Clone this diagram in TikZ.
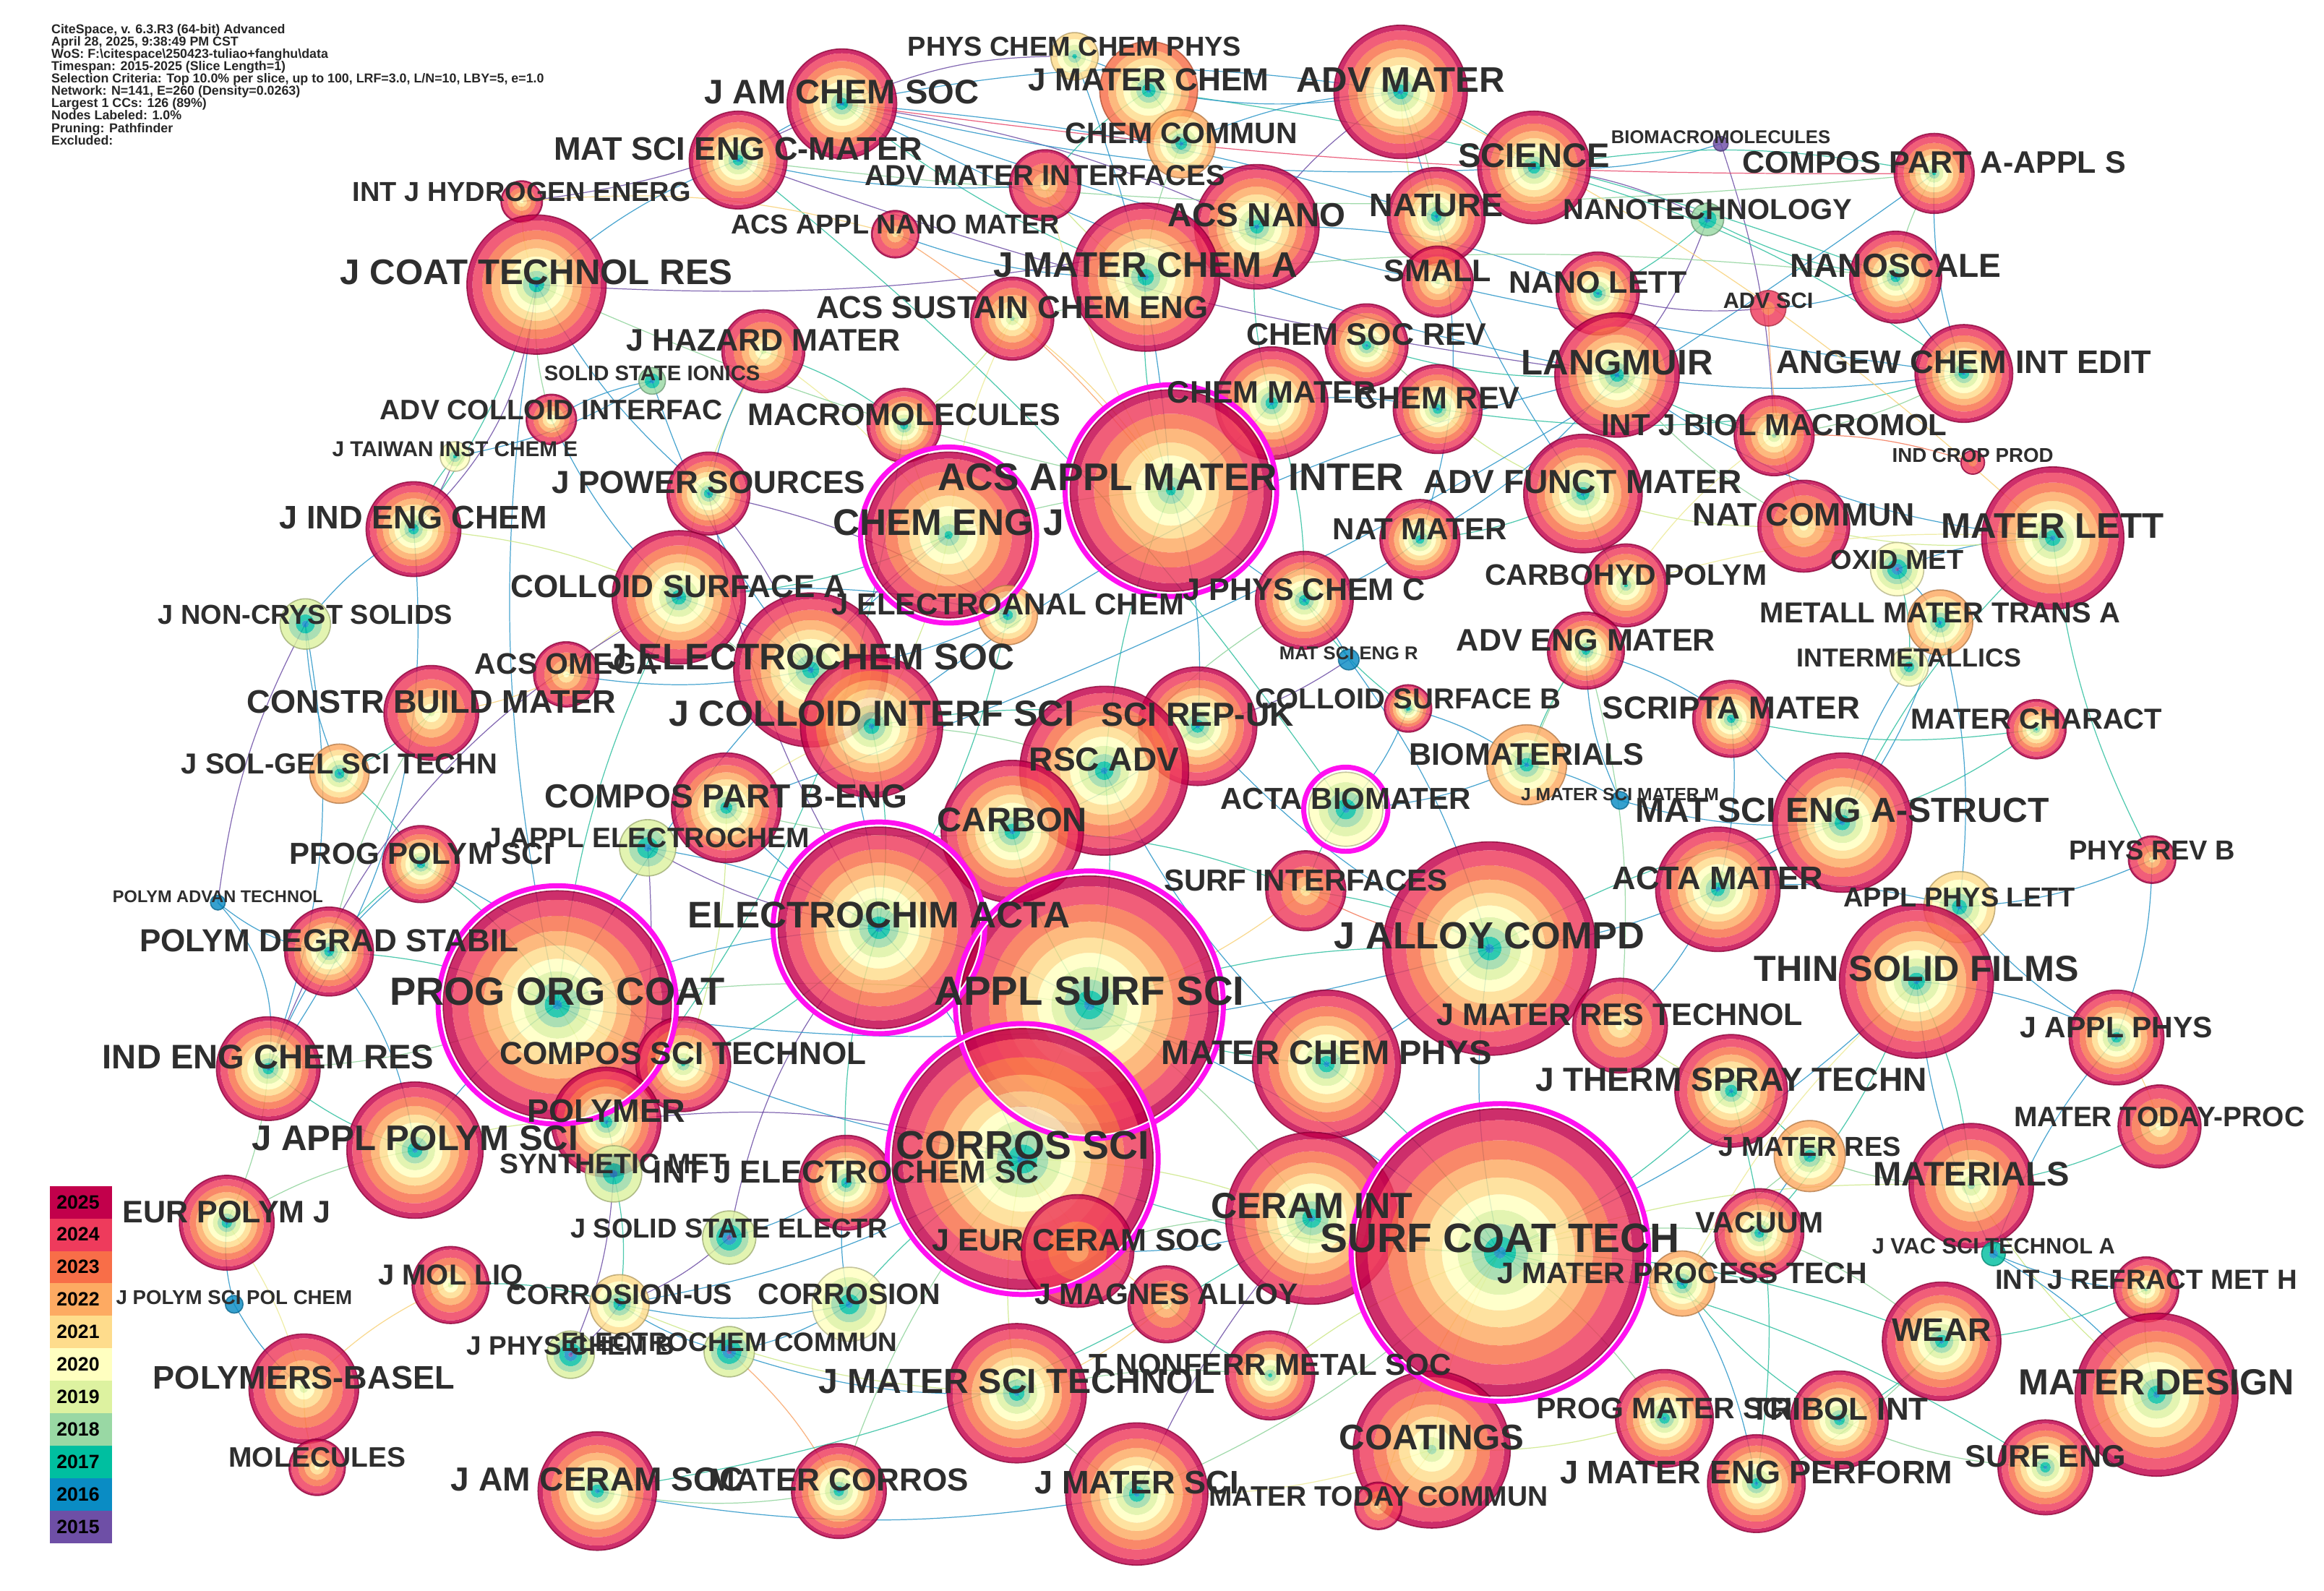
\documentclass[tikz,border=0pt]{standalone}
\usepackage{fontspec}
\setmainfont{Liberation Sans}
\pgfdeclarelayer{bg}\pgfdeclarelayer{fg}
\pgfsetlayers{bg,main,fg}
\definecolor{c2015}{HTML}{6E4FA6}
\definecolor{c2016}{HTML}{0A8CC4}
\definecolor{c2017}{HTML}{00BFA0}
\definecolor{c2018}{HTML}{99D8A4}
\definecolor{c2019}{HTML}{DDF2A0}
\definecolor{c2020}{HTML}{FFFFC0}
\definecolor{c2021}{HTML}{FEDC8C}
\definecolor{c2022}{HTML}{FDAA62}
\definecolor{c2023}{HTML}{F86E48}
\definecolor{c2024}{HTML}{EE3B5C}
\definecolor{c2025}{HTML}{C2004B}
\definecolor{ec15}{HTML}{6E4FA6}
\definecolor{ec16}{HTML}{2A96C8}
\definecolor{ec17}{HTML}{30C0A0}
\definecolor{ec18}{HTML}{90D49C}
\definecolor{ec19}{HTML}{CDE888}
\definecolor{ec20}{HTML}{EDEB98}
\definecolor{ec21}{HTML}{F8D27A}
\definecolor{ec22}{HTML}{F9A66A}
\definecolor{ec23}{HTML}{F47A5A}
\definecolor{ec24}{HTML}{E8486A}
\definecolor{magc}{HTML}{FF10F0}
\tikzset{
  lab/.style={text=black!82, inner sep=0pt},
  ed/.style={line width=.6pt, opacity=.85},
  mag/.style={draw=magc, line width=3.4pt},
}
\newcommand\jnode[8]{%
  \coordinate (#1) at (#2,#3);%
  \pgfmathtruncatemacro\jF{#5}%
  \pgfmathtruncatemacro\jL{#6}%
  \ifnum\jL=2025
    \def\jT{2024}\pgfmathsetmacro\jR{0.92*#4}%
    \fill[fill=c2025,fill opacity=.82,even odd rule] (#1) circle[radius=#4pt] circle[radius=\jR pt];%
  \else
    \edef\jT{\jL}\pgfmathsetmacro\jR{#4}%
  \fi
  \pgfmathtruncatemacro\jM{\jT-\jF+1}%
  \foreach \kk in {1,...,\jM}{%
    \pgfmathtruncatemacro\jyr{\jF+\kk-1}%
    \pgfmathsetmacro\jro{\jR*pow(\kk/\jM,1.4)}%
    \pgfmathsetmacro\jri{\jR*pow(max(\kk-1,0.01)/\jM,1.4)}%
    \fill[fill=c\jyr,fill opacity=.82,even odd rule] (#1) circle[radius=\jro pt] circle[radius=\jri pt];%
  }%
  \draw[draw=c\jL!70!black,line width=.8pt,opacity=.75] (#1) circle[radius=#4pt];%
  \begin{pgfonlayer}{fg}%
  \node[lab,font=\fontsize{#7}{#7}\selectfont\bfseries,anchor=base] (#1-l) at (#1) {#8};%
  \end{pgfonlayer}%
}
\newcommand\magring[2]{%
  \draw[white,line width=1.2pt] (#1) circle[radius=#2pt+1.3pt];
  \draw[mag] (#1) circle[radius=#2pt+3.4pt];}
\begin{document}
\begin{tikzpicture}[x=1pt,y=-1pt]
\useasboundingbox (0,0) rectangle (1568,1073);
\begin{pgfonlayer}{bg}
\fill[white] (0,0) rectangle (1568,1073);
\end{pgfonlayer}

% ---------- nodes ----------
\jnode{physchem}{725}{38}{16}{2017}{2021}{18.5}{PHYS CHEM CHEM PHYS}
\jnode{jmaterchem}{775}{61}{33}{2016}{2023}{21.5}{J MATER CHEM}
\jnode{advmater}{945}{62}{45}{2016}{2025}{24}{ADV MATER}
\jnode{jacs}{568}{70}{37}{2016}{2025}{23}{J AM CHEM SOC}
\jnode{chemcommun}{797}{97}{23}{2016}{2022}{20}{CHEM COMMUN}
\jnode{msec}{498}{108}{33}{2016}{2025}{22}{MAT SCI ENG C-MATER}
\jnode{advmatint}{705}{125}{24}{2021}{2025}{19.5}{ADV MATER INTERFACES}
\jnode{science}{1035}{113}{38}{2016}{2025}{23}{SCIENCE}
\jnode{biomacro}{1161}{97}{5}{2015}{2015}{12.5}{BIOMACROMOLECULES}
\jnode{composA}{1305}{117}{27}{2017}{2025}{21}{COMPOS PART A-APPL S}
\jnode{hydrogen}{352}{136}{14}{2020}{2025}{18.5}{INT J HYDROGEN ENERG}
\jnode{nanomater}{604}{158}{16}{2021}{2025}{18.4}{ACS APPL NANO MATER}
\jnode{acsnano}{848}{153}{42}{2016}{2025}{22.5}{ACS NANO}
\jnode{nature}{969}{146}{33}{2016}{2025}{22}{NATURE}
\jnode{nanotech}{1152}{148}{11}{2016}{2018}{19.5}{NANOTECHNOLOGY}
\jnode{jmca}{773}{187}{50}{2016}{2025}{24}{J MATER CHEM A}
\jnode{small}{970}{190}{24}{2019}{2025}{21}{SMALL}
\jnode{nanolett}{1078}{198}{28}{2016}{2025}{21}{NANO LETT}
\jnode{nanoscale}{1279}{187}{31}{2016}{2025}{22.5}{NANOSCALE}
\jnode{jctr}{362}{192}{47}{2016}{2025}{24}{J COAT TECHNOL RES}
\jnode{advsci}{1193}{208}{12}{2023}{2024}{15}{ADV SCI}
\jnode{sustain}{683}{215}{28}{2018}{2025}{21.4}{ACS SUSTAIN CHEM ENG}
\jnode{hazard}{515}{237}{28}{2019}{2025}{21}{J HAZARD MATER}
\jnode{ssi}{440}{257}{9}{2016}{2018}{14.3}{SOLID STATE IONICS}
\jnode{chemsocrev}{922}{233}{28}{2016}{2025}{21}{CHEM SOC REV}
\jnode{langmuir}{1091}{253}{42}{2016}{2025}{24}{LANGMUIR}
\jnode{angew}{1325}{252}{33}{2016}{2025}{22}{ANGEW CHEM INT EDIT}
\jnode{chemmater}{858}{272}{38}{2016}{2025}{21}{CHEM MATER}
\jnode{chemrev}{970}{276}{30}{2016}{2025}{21}{CHEM REV}
\jnode{macromol}{610}{287}{25}{2016}{2025}{21}{MACROMOLECULES}
\jnode{colloidint}{372}{283}{17}{2019}{2025}{19}{ADV COLLOID INTERFAC}
\jnode{taiwan}{307}{308}{10}{2017}{2020}{14.5}{J TAIWAN INST CHEM E}
\jnode{ijbm}{1197}{294}{27}{2018}{2025}{20.5}{INT J BIOL MACROMOL}
\jnode{indcrop}{1331}{312}{8}{2023}{2025}{13.5}{IND CROP PROD}
\jnode{powersrc}{478}{333}{28}{2016}{2025}{21.5}{J POWER SOURCES}
\jnode{acsami}{790}{331}{68}{2017}{2025}{26}{ACS APPL MATER INTER}
\jnode{cej}{640}{361}{56}{2017}{2025}{25}{CHEM ENG J}
\jnode{afm}{1068}{333}{40}{2016}{2025}{22.5}{ADV FUNCT MATER}
\jnode{materlett}{1385}{363}{48}{2016}{2025}{24}{MATER LETT}
\jnode{jiec}{279}{357}{32}{2016}{2025}{22}{J IND ENG CHEM}
\jnode{natmater}{958}{364}{27}{2016}{2025}{20.5}{NAT MATER}
\jnode{natcommun}{1217}{355}{31}{2020}{2025}{21.8}{NAT COMMUN}
\jnode{oxidmet}{1280}{384}{18}{2015}{2020}{18.5}{OXID MET}
\jnode{carbohyd}{1097}{395}{28}{2017}{2025}{20}{CARBOHYD POLYM}
\jnode{jpcc}{880}{405}{33}{2016}{2025}{21}{J PHYS CHEM C}
\jnode{electroanal}{680}{415}{20}{2016}{2022}{20.5}{J ELECTROANAL CHEM}
\jnode{colloidA}{458}{403}{45}{2016}{2025}{21.5}{COLLOID SURFACE A}
\jnode{metall}{1309}{420}{22}{2016}{2022}{19.5}{METALL MATER TRANS A}
\jnode{noncryst}{206}{421}{17}{2016}{2019}{18.5}{J NON-CRYST SOLIDS}
\jnode{jes}{547}{452}{52}{2016}{2025}{25}{J ELECTROCHEM SOC}
\jnode{advengmater}{1070}{439}{26}{2016}{2025}{21}{ADV ENG MATER}
\jnode{intermet}{1288}{450}{13}{2016}{2020}{17.5}{INTERMETALLICS}
\jnode{mser}{910}{445}{7}{2016}{2016}{12.5}{MAT SCI ENG R}
\jnode{acsomega}{382}{455}{22}{2020}{2025}{20}{ACS OMEGA}
\jnode{colloidB}{950}{478}{16}{2016}{2025}{19.5}{COLLOID SURFACE B}
\jnode{constr}{291}{481}{32}{2019}{2025}{22}{CONSTR BUILD MATER}
\jnode{jcis}{588}{490}{48}{2016}{2025}{24.5}{J COLLOID INTERF SCI}
\jnode{scripta}{1168}{485}{26}{2016}{2025}{21.5}{SCRIPTA MATER}
\jnode{matchar}{1374}{492}{20}{2017}{2025}{19.5}{MATER CHARACT}
\jnode{scirep}{808}{490}{40}{2016}{2025}{22.5}{SCI REP-UK}
\jnode{rscadv}{745}{520}{57}{2016}{2025}{22.5}{RSC ADV}
\jnode{solgel}{229}{522}{20}{2016}{2022}{19.5}{J SOL-GEL SCI TECHN}
\jnode{biomat}{1030}{516}{27}{2016}{2022}{21}{BIOMATERIALS}
\jnode{jmsmm}{1093}{540}{6}{2016}{2016}{12}{J MATER SCI MATER M}
\jnode{composB}{490}{545}{37}{2016}{2025}{22.5}{COMPOS PART B-ENG}
\jnode{actabio}{908}{546}{25}{2016}{2020}{20.5}{ACTA BIOMATER}
\jnode{msea}{1243}{555}{47}{2016}{2025}{23.5}{MAT SCI ENG A-STRUCT}
\jnode{carbon}{683}{561}{48}{2016}{2025}{23}{CARBON}
\jnode{applelectro}{437}{572}{19}{2016}{2019}{19}{J APPL ELECTROCHEM}
\jnode{progpolym}{284}{583}{26}{2016}{2025}{20.5}{PROG POLYM SCI}
\jnode{physrevb}{1452}{580}{16}{2021}{2025}{18.5}{PHYS REV B}
\jnode{polymadv}{147}{609}{5}{2016}{2016}{11.5}{POLYM ADVAN TECHNOL}
\jnode{surfint}{881}{601}{27}{2021}{2025}{20.5}{SURF INTERFACES}
\jnode{actamater}{1159}{600}{42}{2016}{2025}{22}{ACTA MATER}
\jnode{apl}{1322}{612}{24}{2016}{2021}{18.5}{APPL PHYS LETT}
\jnode{electrochim}{593}{626}{68}{2016}{2025}{25}{ELECTROCHIM ACTA}
\jnode{polymdegrad}{222}{642}{30}{2016}{2025}{21.5}{POLYM DEGRAD STABIL}
\jnode{jalcom}{1005}{640}{72}{2016}{2025}{25.5}{J ALLOY COMPD}
\jnode{tsf}{1293}{662}{52}{2016}{2025}{24.5}{THIN SOLID FILMS}
\jnode{appsurf}{735}{678}{87}{2016}{2025}{27.5}{APPL SURF SCI}
\jnode{poc}{376}{678}{77}{2016}{2025}{26.5}{PROG ORG COAT}
\jnode{jap}{1428}{700}{32}{2016}{2025}{20}{J APPL PHYS}
\jnode{jmrt}{1093}{692}{32}{2020}{2025}{21}{J MATER RES TECHNOL}
\jnode{iecr}{181}{721}{35}{2016}{2025}{23}{IND ENG CHEM RES}
\jnode{compsci}{461}{718}{32}{2017}{2025}{21.5}{COMPOS SCI TECHNOL}
\jnode{matchemphys}{895}{718}{50}{2016}{2025}{23}{MATER CHEM PHYS}
\jnode{jtst}{1168}{736}{38}{2016}{2025}{22.5}{J THERM SPRAY TECHN}
\jnode{polymer}{409}{757}{37}{2016}{2025}{22}{POLYMER}
\jnode{jappolym}{280}{776}{46}{2016}{2025}{24}{J APPL POLYM SCI}
\jnode{synthmet}{414}{792}{19}{2016}{2019}{19}{SYNTHETIC MET}
\jnode{ijes}{571}{798}{32}{2016}{2025}{21.5}{INT J ELECTROCHEM SC}
\jnode{corrsci}{690}{782}{88}{2016}{2025}{27}{CORROS SCI}
\jnode{mattoday}{1457}{760}{28}{2020}{2025}{19}{MATER TODAY-PROC}
\jnode{jmatres}{1221}{780}{24}{2016}{2022}{18.5}{J MATER RES}
\jnode{materials}{1330}{800}{42}{2018}{2025}{23}{MATERIALS}
\jnode{ceramint}{885}{822}{58}{2016}{2025}{24.5}{CERAM INT}
\jnode{sct}{1012}{845}{97}{2016}{2025}{27.7}{SURF COAT TECH}
\jnode{eurpolym}{153}{825}{32}{2016}{2025}{21}{EUR POLYM J}
\jnode{jsse}{492}{835}{18}{2015}{2019}{18.5}{J SOLID STATE ELECTR}
\jnode{jecs}{727}{844}{38}{2022}{2025}{21}{J EUR CERAM SOC}
\jnode{vacuum}{1187}{832}{30}{2016}{2025}{20}{VACUUM}
\jnode{jvst}{1345}{846}{8}{2016}{2017}{15}{J VAC SCI TECHNOL A}
\jnode{jmpt}{1135}{866}{22}{2016}{2022}{20}{J MATER PROCESS TECH}
\jnode{refract}{1448}{870}{22}{2018}{2025}{18.7}{INT J REFRACT MET H}
\jnode{jmolliq}{304}{867}{26}{2019}{2025}{19.5}{J MOL LIQ}
\jnode{polymscipol}{158}{880}{6}{2016}{2016}{13.5}{J POLYM SCI POL CHEM}
\jnode{corrosionus}{418}{880}{20}{2016}{2021}{19.3}{CORROSION-US}
\jnode{corrosion}{573}{880}{25}{2016}{2020}{20}{CORROSION}
\jnode{jmagnes}{787}{880}{26}{2021}{2025}{20}{J MAGNES ALLOY}
\jnode{wear}{1310}{905}{40}{2016}{2025}{22}{WEAR}
\jnode{jpcb}{385}{914}{16}{2015}{2019}{18}{J PHYS CHEM B}
\jnode{eleccommun}{492}{912}{17}{2015}{2019}{18}{ELECTROCHEM COMMUN}
\jnode{jmst}{686}{940}{47}{2016}{2025}{23.5}{J MATER SCI TECHNOL}
\jnode{tnonferr}{857}{928}{30}{2017}{2025}{20.5}{T NONFERR METAL SOC}
\jnode{polymers}{205}{937}{37}{2019}{2025}{22}{POLYMERS-BASEL}
\jnode{materdesign}{1455}{941}{55}{2016}{2025}{24.5}{MATER DESIGN}
\jnode{progmatsci}{1123}{957}{33}{2016}{2025}{20}{PROG MATER SCI}
\jnode{tribol}{1241}{958}{33}{2016}{2025}{21.4}{TRIBOL INT}
\jnode{coatings}{966}{978}{53}{2018}{2025}{24}{COATINGS}
\jnode{jmep}{1185}{1001}{33}{2016}{2025}{22}{J MATER ENG PERFORM}
\jnode{surfeng}{1380}{990}{32}{2016}{2025}{21}{SURF ENG}
\jnode{molecules}{214}{990}{19}{2020}{2025}{19}{MOLECULES}
\jnode{jacers}{403}{1006}{40}{2016}{2025}{22.5}{J AM CERAM SOC}
\jnode{matcorros}{566}{1006}{32}{2016}{2025}{21.5}{MATER CORROS}
\jnode{jmatsci}{767}{1008}{48}{2016}{2025}{22}{J MATER SCI}
\jnode{mattodaycommun}{930}{1016}{16}{2021}{2025}{19}{MATER TODAY COMMUN}

% ---------- centrality rings ----------
\magring{acsami}{68}
\magring{cej}{56}
\magring{poc}{77}
\magring{electrochim}{68}
\magring{appsurf}{87}
\magring{corrsci}{88}
\magring{sct}{97}
\magring{actabio}{25}

% ---------- links ----------
\begin{pgfonlayer}{bg}
\foreach \c/\a/\b/\bb in {
 16/jacs/advmater/10, 17/jacs/jmca/-8, 16/jacs/angew/-6, 15/jacs/acsnano/8, 16/jacs/nature/6,
 15/advmater/acsnano/-10, 17/advmater/science/8, 16/advmater/afm/-10, 18/advmater/nature/10, 19/advmater/small/-8,
 16/acsnano/nanolett/12, 17/acsnano/chemmater/-10, 18/acsnano/jmca/8, 15/nature/science/-10, 16/nature/natmater/15,
 15/science/nanotech/10, 16/science/biomacro/-10, 17/nanotech/nanolett/8, 17/nanotech/nanoscale/-10, 15/nanotech/langmuir/10,
 15/biomacro/ijbm/8, 16/langmuir/jcis/-12, 17/langmuir/chemsocrev/10, 16/langmuir/angew/-8, 17/angew/chemrev/12,
 16/angew/nanoscale/10, 17/nanoscale/jmaterchem/-6, 18/chemsocrev/chemrev/10, 19/chemrev/afm/-10, 16/chemmater/acsami/8,
 17/jmca/acsami/-10, 19/jmca/advmatint/10, 16/jmaterchem/physchem/-10, 17/jmaterchem/chemcommun/10, 18/chemcommun/jmca/-10,
 16/physchem/acsami/8, 20/advmatint/acsami/-8, 22/nanomater/acsami/10, 20/sustain/cej/-10, 21/sustain/acsami/10,
 18/cej/acsami/8, 20/cej/hazard/-10, 19/cej/jcis/10, 17/acsami/rscadv/-8, 16/acsami/scirep/10,
 16/acsami/jpcc/-10, 17/afm/natmater/10, 19/afm/natcommun/-10, 22/natcommun/advsci/8, 18/natcommun/langmuir/10,
 20/ijbm/carbohyd/-10, 23/ijbm/indcrop/10, 18/carbohyd/biomat/-8, 16/biomat/actabio/10, 16/actabio/colloidB/-10,
 16/biomat/jmsmm/10, 17/actabio/msec/-8, 18/msec/composA/-6, 16/msec/jacs/10, 16/composA/composB/8,
 18/composA/nanoscale/-10, 24/jacs/composA/-4, 21/advmater/materlett/8, 17/science/angew/10,
 16/poc/jctr/10, 17/poc/polymdegrad/-10, 18/poc/iecr/10, 16/poc/jappolym/-10, 19/poc/polymer/10,
 20/poc/compsci/-10, 16/poc/electrochim/10, 17/poc/progpolym/-12, 17/poc/colloidA/10, 16/poc/corrsci/-8,
 18/poc/appsurf/8, 20/jctr/hydrogen/10, 18/jctr/colloidint/-10, 17/jctr/jiec/10, 16/jctr/powersrc/-10,
 17/jiec/taiwan/10, 16/jiec/noncryst/-10, 19/jiec/colloidA/10, 20/colloidA/acsomega/-10, 16/colloidA/jes/10,
 18/colloidA/jcis/-10, 19/colloidA/hazard/10, 21/constr/acsomega/-10, 17/constr/solgel/10, 18/constr/polymdegrad/-10,
 16/solgel/noncryst/10, 17/progpolym/polymdegrad/-10, 16/polymadv/polymdegrad/-15, 16/polymadv/iecr/25, 18/iecr/eurpolym/10,
 17/iecr/jappolym/-10, 19/jappolym/polymer/10, 18/jappolym/eurpolym/-10, 16/polymer/synthmet/10, 18/polymer/compsci/-10,
 20/eurpolym/polymers/10, 21/polymers/molecules/-10, 16/polymscipol/eurpolym/10, 16/polymscipol/polymers/-10, 17/jmolliq/corrosionus/10,
 21/jmolliq/polymers/-10, 19/composB/compsci/10, 18/composB/carbon/-10, 20/composB/jcis/10, 19/macromol/cej/-10,
 17/macromol/polymer/15, 15/jiec/jctr/-20, 16/iecr/progpolym/15,
 16/electrochim/jes/-10, 16/electrochim/corrsci/10, 17/electrochim/ijes/-10, 18/electrochim/carbon/10, 16/electrochim/applelectro/-10,
 15/electrochim/powersrc/10, 17/electrochim/electroanal/-10, 16/electrochim/appsurf/10, 16/jes/electroanal/-10, 16/jes/ssi/10,
 15/jes/powersrc/-10, 18/jes/jcis/10, 17/corrsci/corrosion/-10, 16/corrsci/corrosionus/10, 18/corrsci/matcorros/-10,
 16/corrsci/ijes/10, 22/corrsci/jecs/-10, 17/corrsci/appsurf/10, 17/corrsci/sct/-10, 19/corrsci/ceramint/10,
 21/corrsci/jmagnes/-10, 16/corrosion/eleccommun/10, 15/corrosionus/jsse/-10, 15/corrosionus/jpcb/10, 16/corrosionus/eleccommun/-10,
 22/eleccommun/matcorros/10, 15/jpcb/synthmet/-10, 16/ijes/jsse/10, 15/synthmet/applelectro/-10, 18/matcorros/jacers/10,
 16/corrosionus/corrosion/-12, 19/corrosionus/jmst/-10,
 16/sct/appsurf/-8, 16/sct/jalcom/10, 16/sct/tsf/-10, 18/sct/ceramint/10, 20/sct/coatings/-10,
 17/sct/wear/10, 17/sct/jtst/-10, 18/sct/vacuum/10, 16/sct/jmpt/-10, 17/sct/surfeng/10,
 17/sct/matchemphys/-10, 18/sct/jmatsci/10, 19/sct/tnonferr/-10, 18/sct/progmatsci/10, 21/sct/mattodaycommun/-10,
 19/sct/materials/10, 17/appsurf/jalcom/10, 17/appsurf/matchemphys/-10, 18/appsurf/ceramint/10, 21/appsurf/surfint/-10,
 17/appsurf/carbon/10, 17/appsurf/rscadv/-10, 17/jalcom/msea/10, 16/jalcom/actamater/-10, 20/jalcom/jmrt/10,
 16/jalcom/mser/-10, 16/jalcom/matchemphys/10, 16/msea/actamater/-10, 16/msea/scripta/10, 17/msea/matchar/-10,
 17/msea/materlett/10, 16/msea/metall/-10, 16/msea/intermet/10, 16/actamater/scripta/-10, 16/actamater/apl/10,
 16/tsf/apl/-10, 16/tsf/jap/10, 16/tsf/jvst/-10, 17/tsf/vacuum/10, 16/jap/physrevb/-10,
 21/jap/mattoday/10, 16/materlett/oxidmet/-10, 19/materlett/natcommun/10, 20/materlett/carbohyd/-10, 17/wear/tribol/10,
 17/wear/refract/-10, 18/wear/jmep/10, 18/tribol/surfeng/-10, 18/materdesign/refract/10, 19/materdesign/surfeng/-10,
 19/materdesign/materials/10, 18/ceramint/jecs/-10, 17/ceramint/jacers/12, 21/jmst/jmagnes/-10, 18/jmst/tnonferr/10,
 18/jmst/jmatsci/-10, 21/coatings/mattodaycommun/10, 18/jmrt/advengmater/-10, 16/oxidmet/metall/10, 16/metall/intermet/-10,
 17/jtst/jmatres/10, 18/jmatres/materials/-10, 16/jpcc/mser/10, 17/jpcc/colloidB/-10, 17/scirep/rscadv/10,
 17/rscadv/carbon/-10, 18/jcis/rscadv/10, 17/advengmater/biomat/-10, 16/colloidint/ssi/10, 16/taiwan/ssi/-10,
 21/hydrogen/nanomater/10, 16/jmsmm/advengmater/12, 23/surfint/jalcom/-10, 16/physrevb/apl/10, 17/intermet/oxidmet/-10,
 16/langmuir/materlett/-15, 17/science/composA/10, 16/jacs/langmuir/-8, 18/jmca/nanoscale/6, 16/cej/poc/-10,
 17/jcis/electrochim/10, 16/rscadv/matchemphys/-10, 18/jctr/acsami/-6, 16/apl/jap/-10, 16/jvst/materdesign/10,
 20/tsf/jmpt/-10, 18/vacuum/wear/10, 17/jmep/jtst/-12, 16/jmatsci/jacers/10, 15/ceramint/jmatsci/-8,
 16/jiec/iecr/20, 15/noncryst/polymadv/-10, 16/noncryst/iecr/15, 17/solgel/progpolym/10, 16/jctr/msec/10,
 15/hydrogen/jacs/-10, 16/msec/advmatint/-8, 17/hazard/macromol/10, 16/hazard/powersrc/-10, 15/powersrc/electroanal/10,
 16/colloidint/colloidA/-10, 15/taiwan/jiec/10, 16/colloidA/electroanal/10, 17/colloidA/cej/-10, 15/jes/cej/10,
 16/acsomega/jes/-10, 17/jcis/scirep/10, 16/composB/electrochim/-10, 18/applelectro/composB/10, 15/applelectro/electrochim/-10,
 16/progpolym/compsci/10, 17/compsci/electrochim/-10, 15/polymer/corrsci/12, 16/jappolym/polymdegrad/-15, 17/synthmet/corrosionus/10,
 16/ijes/corrosion/-10, 15/jsse/electrochim/15, 16/eleccommun/jmst/-10, 19/jmst/corrsci/10, 16/jecs/ceramint/-10,
 17/tnonferr/jmagnes/10, 18/tnonferr/ceramint/-10, 20/coatings/jmatsci/10, 19/coatings/progmatsci/-10, 16/jmpt/jmep/10,
 17/jmpt/tribol/-10, 16/vacuum/jmatres/10, 18/jmatres/jmpt/-10, 16/refract/jvst/10, 17/materials/mattoday/-10,
 16/jap/jvst/-10, 17/tsf/materials/10, 16/apl/metall/-10, 17/matchar/scripta/10, 16/scripta/advengmater/-10,
 16/actamater/jmrt/10, 19/jmrt/jtst/-10, 16/jalcom/scirep/10, 17/jalcom/surfint/-10, 16/natmater/jpcc/10,
 17/afm/carbohyd/-10, 16/langmuir/natmater/10, 15/nanolett/advsci/-10, 16/nanoscale/advsci/10, 17/langmuir/ijbm/-10,
 18/angew/ijbm/10, 16/composA/angew/-10, 16/chemmater/chemrev/10, 17/jpcc/chemmater/-10, 16/electroanal/cej/10,
 18/sustain/jmca/-10, 19/sustain/macromol/10, 16/nanomater/jmca/-10, 17/advmatint/jmaterchem/10, 15/physchem/jacs/-12,
 16/chemcommun/advmater/10, 16/jmaterchem/advmater/-10, 17/carbon/surfint/10, 16/carbon/scirep/-10, 18/rscadv/jpcc/10,
 17/actabio/surfint/-10, 16/colloidB/biomat/10, 15/mser/scirep/10, 16/jmsmm/msea/-10, 17/physrevb/materlett/10,
 15/jctr/acsnano/-8, 16/poc/jalcom/-12, 15/iecr/colloidA/20, 16/jacs/science/-8, 15/msec/langmuir/-6
}{\draw[ed,draw=ec\c] (\a) to[bend left=\bb] (\b);}
\end{pgfonlayer}

% ---------- header ----------
\node[anchor=north west,align=left,inner sep=0pt,text=black!85,
      font=\fontsize{8.7}{8.32}\selectfont\bfseries] (hdr) at (34.5,16.2) {%
CiteSpace, v. 6.3.R3 (64-bit) Advanced\\
April 28, 2025, 9:38:49 PM CST\\
WoS: F:\textbackslash citespace\textbackslash 250423-tuliao+fanghu\textbackslash data\\
Timespan: 2015-2025 (Slice Length=1)\\
Selection Criteria: Top 10.0\% per slice, up to 100, LRF=3.0, L/N=10, LBY=5, e=1.0\\
Network: N=141, E=260 (Density=0.0263)\\
Largest 1 CCs: 126 (89\%)\\
Nodes Labeled: 1.0\%\\
Pruning: Pathfinder\\
Excluded:};

% ---------- legend ----------
\foreach \i/\yr in {0/2025,1/2024,2/2023,3/2022,4/2021,5/2020,6/2019,7/2018,8/2017,9/2016,10/2015}{
  \node[fill=c\yr,draw=none,minimum width=42pt,minimum height=21.9pt,inner sep=0pt,anchor=north west]
    (leg\yr) at (33.5,{800+21.9*\i}) {};
  \node[anchor=west,inner sep=0pt,font=\fontsize{13}{13}\selectfont\bfseries,text=black]
    (legt\yr) at (38,{811+21.9*\i}) {\yr};
}
\end{tikzpicture}
\end{document}
